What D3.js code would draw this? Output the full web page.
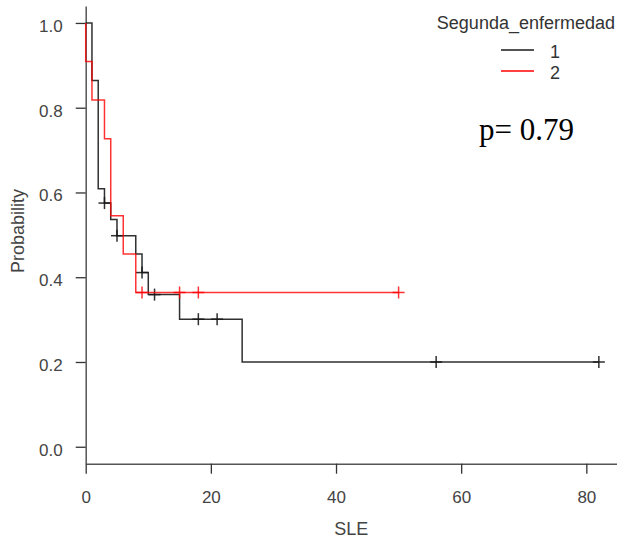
<!DOCTYPE html>
<html>
<head>
<meta charset="utf-8">
<script src="https://cdn.jsdelivr.net/npm/d3@7"></script>
<style>
  body { margin: 0; background: #fff; }
  text { font-family: "Liberation Sans", Arial, sans-serif; }
</style>
</head>
<body>
<div id="chart"></div>
<script>
// Kaplan-Meier steps
var group1Times = [0, 1, 2, 3, 4, 5, 8, 9, 10, 15, 25, 82];
var group1Surv = [1, 0.864, 0.609, 0.575, 0.536, 0.498, 0.455, 0.411, 0.359, 0.301, 0.2, 0.2];
var group1CensorTimes = [3, 5, 9, 11, 18, 21, 56, 82];
var group1CensorSurv = [0.575, 0.498, 0.411, 0.359, 0.301, 0.301, 0.2, 0.2];

var group2Times = [0, 0, 1, 3, 4, 6, 8, 50];
var group2Surv = [1, 0.909, 0.818, 0.727, 0.545, 0.455, 0.364, 0.364];
var group2CensorTimes = [9, 15, 18, 50];
var group2CensorSurv = [0.364, 0.364, 0.364, 0.364];

var groupNames = ["1", "2"];
var groupColors = ["#1a1a1a", "#ff0000"];
var xTicks = [0, 20, 40, 60, 80];
var yTicks = [0, 0.2, 0.4, 0.6, 0.8, 1.0];

var svgWidth = 617;
var svgHeight = 540;

var svg = d3.select("#chart")
  .append("svg")
  .attr("width", svgWidth)
  .attr("height", svgHeight);

// scales
var x = d3.scaleLinear().domain([0, 84.9]).range([85.7, 617]);
var y = d3.scaleLinear().domain([-0.04, 1.04]).range([463.7, 6]);

// axes
var xAxis = d3.axisBottom(x)
  .tickValues(xTicks)
  .tickFormat(d3.format("d"))
  .tickSize(10)
  .tickSizeOuter(0)
  .tickPadding(17);

var yAxis = d3.axisLeft(y)
  .tickValues(yTicks)
  .tickFormat(d3.format(".1f"))
  .tickSize(10)
  .tickSizeOuter(0)
  .tickPadding(13);

var gx = svg.append("g")
  .attr("transform", "translate(0," + y.range()[0] + ")")
  .call(xAxis);

var gy = svg.append("g")
  .attr("transform", "translate(" + x.range()[0] + ",0)")
  .call(yAxis);

[gx, gy].forEach(function(g) {
  g.select(".domain").attr("stroke", "#555").attr("stroke-width", 1.5);
  g.selectAll(".tick line").attr("stroke", "#333").attr("stroke-width", 1.3);
  g.selectAll(".tick text")
    .attr("fill", "#444")
    .style("font-size", "17px")
    .style("font-family", "'Liberation Sans', Arial, sans-serif");
});
gy.selectAll(".tick text").attr("dy", "0.5em");

// axis titles
svg.append("text")
  .attr("x", (x.range()[0] + x.range()[1]) / 2)
  .attr("y", 535)
  .attr("text-anchor", "middle")
  .attr("fill", "#444")
  .style("font-size", "18px")
  .text("SLE");

svg.append("text")
  .attr("transform", "translate(24,231) rotate(-90)")
  .attr("text-anchor", "middle")
  .attr("fill", "#444")
  .style("font-size", "18px")
  .text("Probability");

// survival curves
var line = d3.line()
  .x(function(d) { return x(d[0]); })
  .y(function(d) { return y(d[1]); })
  .curve(d3.curveStepAfter);

var curves = [
  { times: group1Times, surv: group1Surv, cTimes: group1CensorTimes, cSurv: group1CensorSurv },
  { times: group2Times, surv: group2Surv, cTimes: group2CensorTimes, cSurv: group2CensorSurv }
];

curves.forEach(function(c, i) {
  var pts = c.times.map(function(t, j) { return [t, c.surv[j]]; });
  svg.append("path")
    .datum(pts)
    .attr("d", line)
    .attr("fill", "none")
    .attr("stroke", groupColors[i])
    .attr("stroke-width", 1.5)
    .attr("stroke-opacity", i == 1 ? 0.8 : 0.9);

  // censor marks (+)
  var marks = svg.append("g")
    .attr("stroke", groupColors[i])
    .attr("stroke-width", 1.5)
    .attr("stroke-opacity", i == 1 ? 0.8 : 0.9)
    .selectAll("g")
    .data(c.cTimes.map(function(t, j) { return [t, c.cSurv[j]]; }))
    .enter()
    .append("g")
    .attr("transform", function(d) { return "translate(" + x(d[0]) + "," + y(d[1]) + ")"; });
  marks.append("line").attr("x1", -6).attr("x2", 6);
  marks.append("line").attr("y1", -6).attr("y2", 6);
});

// legend
svg.append("text")
  .attr("x", 615)
  .attr("y", 29)
  .attr("text-anchor", "end")
  .attr("fill", "#333")
  .style("font-size", "18px")
  .text("Segunda_enfermedad");

var legend = svg.selectAll(".legend")
  .data(groupNames)
  .enter()
  .append("g")
  .attr("class", "legend")
  .attr("transform", function(d, i) { return "translate(0," + (50 + i * 21) + ")"; });

legend.append("line")
  .attr("x1", 501)
  .attr("x2", 534)
  .attr("stroke", function(d, i) { return groupColors[i]; })
  .attr("stroke-width", 1.3);

legend.append("text")
  .attr("x", 550)
  .attr("y", 8)
  .attr("fill", "#333")
  .style("font-size", "18px")
  .text(function(d) { return d; });

// p-value
svg.append("text")
  .attr("x", 479)
  .attr("y", 140)
  .attr("fill", "#000")
  .style("font-family", "'Liberation Serif', 'Times New Roman', serif")
  .style("font-size", "31px")
  .text("p= 0.79");
</script>
</body>
</html>
